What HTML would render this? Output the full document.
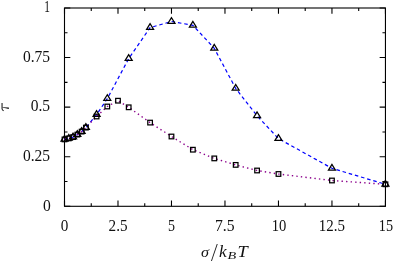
<!DOCTYPE html>
<html><head><meta charset="utf-8"><title>plot</title>
<style>html,body{margin:0;padding:0;background:#fff}svg{display:block;will-change:transform}text{font-family:"Liberation Serif",serif;fill:#111}</style></head><body>
<svg width="395" height="262" viewBox="0 0 395 262">
<rect width="395" height="262" fill="#fff"/>
<g stroke="#000" stroke-width="1.1" fill="none" stroke-linecap="butt">
<rect x="64.5" y="8.0" width="320.95" height="198.30"/>
<path d="M64.50 206.3v-5.8M64.50 8.0v5.8M91.25 206.3v-3.0M91.25 8.0v3.0M117.99 206.3v-5.8M117.99 8.0v5.8M144.74 206.3v-3.0M144.74 8.0v3.0M171.48 206.3v-5.8M171.48 8.0v5.8M198.23 206.3v-3.0M198.23 8.0v3.0M224.97 206.3v-5.8M224.97 8.0v5.8M251.72 206.3v-3.0M251.72 8.0v3.0M278.47 206.3v-5.8M278.47 8.0v5.8M305.21 206.3v-3.0M305.21 8.0v3.0M331.96 206.3v-5.8M331.96 8.0v5.8M358.70 206.3v-3.0M358.70 8.0v3.0M385.45 206.3v-5.8M385.45 8.0v5.8M64.5 206.30h5.8M385.45 206.30h-5.8M64.5 181.51h3.0M385.45 181.51h-3.0M64.5 156.73h5.8M385.45 156.73h-5.8M64.5 131.94h3.0M385.45 131.94h-3.0M64.5 107.15h5.8M385.45 107.15h-5.8M64.5 82.36h3.0M385.45 82.36h-3.0M64.5 57.57h5.8M385.45 57.57h-5.8M64.5 32.79h3.0M385.45 32.79h-3.0M64.5 8.00h5.8M385.45 8.00h-5.8"/>
</g>
<polyline points="64.50,139.40 68.78,138.40 73.06,137.10 77.34,134.60 81.62,131.60 85.90,127.60 96.59,114.60 107.29,98.70 128.69,58.60 150.09,27.60 171.48,21.50 192.88,25.30 214.28,48.30 235.67,88.40 257.07,115.80 278.47,138.60 331.96,168.30 385.45,184.30" fill="none" stroke="#0000ff" stroke-width="1.22" stroke-dasharray="3.55 2.85"/>
<polyline points="64.50,139.40 68.78,138.40 73.06,137.10 77.34,134.60 81.62,131.60 85.90,127.60 96.59,116.50 107.29,106.50 117.99,100.70 128.69,107.30 150.09,122.60 171.48,136.50 192.88,149.70 214.28,158.40 235.67,164.90 257.07,170.50 278.47,174.00 331.96,180.50 385.45,184.30" fill="none" stroke="#8b008b" stroke-width="1.4" stroke-dasharray="1.4 3.15"/>
<g stroke="#000" stroke-width="1.25" fill="none" stroke-linejoin="miter">
<path d="M64.50 135.48l-3.5 5.67h7.0z"/>
<path d="M68.78 134.48l-3.5 5.67h7.0z"/>
<path d="M73.06 133.18l-3.5 5.67h7.0z"/>
<path d="M77.34 130.68l-3.5 5.67h7.0z"/>
<path d="M81.62 127.68l-3.5 5.67h7.0z"/>
<path d="M85.90 123.68l-3.5 5.67h7.0z"/>
<path d="M96.59 110.68l-3.5 5.67h7.0z"/>
<path d="M107.29 94.78l-3.5 5.67h7.0z"/>
<path d="M128.69 54.68l-3.5 5.67h7.0z"/>
<path d="M150.09 23.68l-3.5 5.67h7.0z"/>
<path d="M171.48 17.58l-3.5 5.67h7.0z"/>
<path d="M192.88 21.38l-3.5 5.67h7.0z"/>
<path d="M214.28 44.38l-3.5 5.67h7.0z"/>
<path d="M235.67 84.48l-3.5 5.67h7.0z"/>
<path d="M257.07 111.88l-3.5 5.67h7.0z"/>
<path d="M278.47 134.68l-3.5 5.67h7.0z"/>
<path d="M331.96 164.38l-3.5 5.67h7.0z"/>
<path d="M385.45 180.38l-3.5 5.67h7.0z"/>
<rect x="62.20" y="137.10" width="4.6" height="4.6"/>
<rect x="66.48" y="136.10" width="4.6" height="4.6"/>
<rect x="70.76" y="134.80" width="4.6" height="4.6"/>
<rect x="75.04" y="132.30" width="4.6" height="4.6"/>
<rect x="79.32" y="129.30" width="4.6" height="4.6"/>
<rect x="83.60" y="125.30" width="4.6" height="4.6"/>
<rect x="94.30" y="114.20" width="4.6" height="4.6"/>
<rect x="104.99" y="104.20" width="4.6" height="4.6"/>
<rect x="115.69" y="98.40" width="4.6" height="4.6"/>
<rect x="126.39" y="105.00" width="4.6" height="4.6"/>
<rect x="147.79" y="120.30" width="4.6" height="4.6"/>
<rect x="169.18" y="134.20" width="4.6" height="4.6"/>
<rect x="190.58" y="147.40" width="4.6" height="4.6"/>
<rect x="211.98" y="156.10" width="4.6" height="4.6"/>
<rect x="233.37" y="162.60" width="4.6" height="4.6"/>
<rect x="254.77" y="168.20" width="4.6" height="4.6"/>
<rect x="276.17" y="171.70" width="4.6" height="4.6"/>
<rect x="329.66" y="178.20" width="4.6" height="4.6"/>
<rect x="383.15" y="182.00" width="4.6" height="4.6"/>
</g>
<text transform="matrix(0.05700 0 0 0.07955 44.200 11.700)" font-size="200">1</text>
<text transform="matrix(0.07771 0 0 0.08162 22.900 62.055)" font-size="200">0.75</text>
<text transform="matrix(0.07760 0 0 0.08088 30.700 111.157)" font-size="200">0.5</text>
<text transform="matrix(0.07771 0 0 0.08456 22.900 161.146)" font-size="200">0.25</text>
<text transform="matrix(0.07800 0 0 0.08296 43.000 210.834)" font-size="200">0</text>
<text transform="matrix(0.07600 0 0 0.08370 60.800 230.733)" font-size="200">0</text>
<text transform="matrix(0.07600 0 0 0.08370 108.600 230.649)" font-size="200">2.5</text>
<text transform="matrix(0.07000 0 0 0.08421 167.900 230.732)" font-size="200">5</text>
<text transform="matrix(0.07860 0 0 0.08433 214.950 230.647)" font-size="200">7.5</text>
<text transform="matrix(0.07300 0 0 0.08370 271.700 230.733)" font-size="200">10</text>
<text transform="matrix(0.07486 0 0 0.08370 318.800 230.649)" font-size="200">12.5</text>
<text transform="matrix(0.07100 0 0 0.08433 378.800 230.731)" font-size="200">15</text>
<text transform="matrix(0.08095 0 0 0.06857 200.900 256.563)" font-size="200" font-style="italic">σ</text>
<text transform="matrix(0.08395 0 0 0.12687 211.740 260.546)" font-size="200" font-style="italic">/</text>
<text transform="matrix(0.08696 0 0 0.08058 219.000 256.600)" font-size="200" font-style="italic">k</text>
<text transform="matrix(0.07131 0 0 0.05227 227.600 258.748)" font-size="200" font-style="italic">B</text>
<text transform="matrix(0.09194 0 0 0.08015 237.400 256.500)" font-size="200" font-style="italic">T</text>
<path d="M2.05 103.1V108.7Q2.1 110.2 3.7 110.7" fill="none" stroke="#222" stroke-width="1.1"/>
<path d="M2.5 107.15L8.8 107.6Q9.3 108.4 8.6 109.0Q6 108.3 2.5 107.75z" fill="#111"/>
</svg></body></html>
